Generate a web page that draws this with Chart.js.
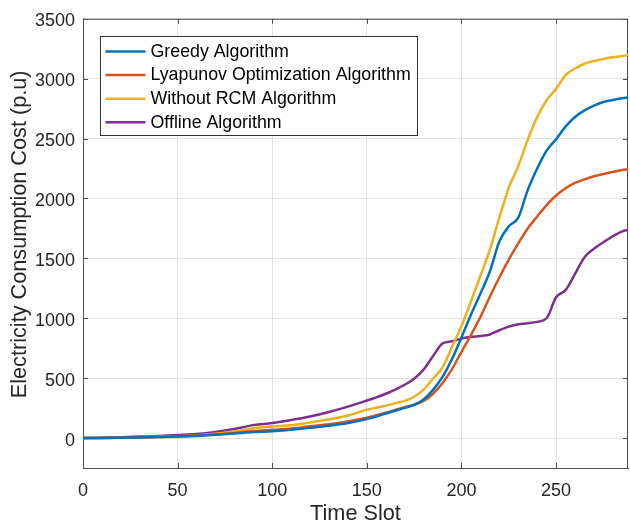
<!DOCTYPE html>
<html>
<head>
<meta charset="utf-8">
<script src="https://cdn.jsdelivr.net/npm/chart.js@4"></script>
<style>
    html, body { margin: 0; padding: 0; background: #ffffff; }
    #wrap { width: 630px; height: 525px; }
</style>
</head>
<body>
<div id="wrap"><canvas id="costChart" width="630" height="525"></canvas></div>
<script>
// Data
const timeSlots = [0, 10, 20, 30, 40, 50, 60, 70, 80, 90, 100, 110, 120, 130, 140, 150,
    155, 160, 165, 170, 175, 180, 185, 190, 195, 200, 205, 210, 215, 220, 225, 230, 235,
    240, 245, 250, 255, 260, 265, 270, 275, 280, 285, 288];

const greedy = [0, 1, 3, 5, 8, 12, 18, 27, 38, 50, 57, 70, 85, 102, 125, 158,
    180, 205, 228, 252, 277, 322, 402, 510, 660, 840, 1030, 1205, 1390, 1640, 1768, 1840, 2070,
    2250, 2400, 2495, 2600, 2680, 2735, 2775, 2805, 2822, 2837, 2843];

const lyapunov = [0, 1, 3, 6, 9, 13, 21, 30, 42, 58, 69, 80, 98, 115, 139, 170,
    190, 212, 235, 258, 278, 310, 370, 460, 575, 720, 860, 1010, 1180, 1340, 1490, 1625, 1750,
    1850, 1945, 2025, 2085, 2130, 2160, 2185, 2205, 2222, 2238, 2245];

const withoutRcm = [0, 1, 3, 6, 10, 15, 22, 35, 55, 82, 97, 106, 130, 157, 188, 236,
    253, 270, 290, 310, 345, 405, 495, 590, 760, 935, 1140, 1355, 1572, 1840, 2090, 2270, 2490,
    2680, 2820, 2915, 3030, 3085, 3125, 3147, 3165, 3179, 3190, 3195];

const offline = [0, 2, 6, 12, 18, 25, 33, 50, 75, 108, 125, 150, 180, 218, 262, 313,
    340, 370, 405, 445, 495, 572, 685, 790, 808, 830, 845, 852, 865, 900, 930, 950, 958,
    970, 1000, 1175, 1235, 1370, 1510, 1580, 1635, 1685, 1725, 1738];

const seriesNames = ["Greedy Algorithm", "Lyapunov Optimization Algorithm", "Without RCM Algorithm", "Offline Algorithm"];
const seriesColors = ["#0072BD", "#D95319", "#EDB120", "#7E2F8E"];

const xTicks = [0, 50, 100, 150, 200, 250];
const yTicks = [0, 500, 1000, 1500, 2000, 2500, 3000, 3500];

const FONT = "'Liberation Sans', Arial, Helvetica, sans-serif";
const TEXT = '#262626';
const AXIS = '#4d4d4d';

const toPoints = (vals) => vals.map((v, i) => ({ x: timeSlots[i], y: v }));

// MATLAB style box: top/right border + inward tick marks
const boxPlugin = {
    id: 'boxPlugin',
    beforeDatasetsDraw(chart) {
        const { ctx, chartArea: a, scales } = chart;
        ctx.save();
        ctx.strokeStyle = AXIS;
        ctx.lineWidth = 1;
        ctx.beginPath();
        ctx.moveTo(a.left, a.top + 0.5);
        ctx.lineTo(a.right, a.top + 0.5);
        ctx.moveTo(a.right - 0.5, a.top);
        ctx.lineTo(a.right - 0.5, a.bottom);
        const len = 5;
        xTicks.forEach(t => {
            const px = Math.round(scales.x.getPixelForValue(t)) + 0.5;
            ctx.moveTo(px, a.bottom); ctx.lineTo(px, a.bottom - len);
            ctx.moveTo(px, a.top); ctx.lineTo(px, a.top + len);
        });
        yTicks.forEach(t => {
            const py = Math.round(scales.y.getPixelForValue(t)) + 0.5;
            ctx.moveTo(a.left, py); ctx.lineTo(a.left + len, py);
            ctx.moveTo(a.right, py); ctx.lineTo(a.right - len, py);
        });
        ctx.stroke();
        ctx.restore();
    }
};

// legend drawn as a boxed panel inside the plot (top-left)
const legendBox = {
    id: 'legendBox',
    afterDatasetsDraw(chart) {
        const { ctx } = chart;
        const x0 = 100.5, y0 = 36.5, w = 317, h = 99;
        ctx.save();
        ctx.fillStyle = '#ffffff';
        ctx.fillRect(x0, y0, w, h);
        ctx.strokeStyle = '#333333';
        ctx.lineWidth = 1;
        ctx.strokeRect(x0, y0, w, h);
        ctx.font = `17.8px ${FONT}`;
        ctx.textBaseline = 'middle';
        ctx.textAlign = 'left';
        chart.data.datasets.forEach((ds, i) => {
            const yy = 51.5 + i * 23.6;
            ctx.strokeStyle = ds.borderColor;
            ctx.lineWidth = 2.5;
            ctx.beginPath();
            ctx.moveTo(105.5, yy);
            ctx.lineTo(145.5, yy);
            ctx.stroke();
            ctx.fillStyle = '#000000';
            ctx.fillText(ds.label, 150.5, yy + 0.5);
        });
        ctx.restore();
    }
};

const datasets = [greedy, lyapunov, withoutRcm, offline].map((vals, i) => ({
    label: seriesNames[i],
    data: toPoints(vals),
    borderColor: seriesColors[i],
    backgroundColor: seriesColors[i],
    borderWidth: 2.5,
    pointRadius: 0,
    cubicInterpolationMode: 'monotone',
    fill: false
}));

new Chart(document.getElementById('costChart'), {
    type: 'line',
    data: { datasets },
    options: {
        responsive: false,
        animation: false,
        devicePixelRatio: 1,
        layout: { padding: { top: 18, right: 2, left: 0, bottom: 0 } },
        plugins: {
            legend: { display: false },
            tooltip: { enabled: false }
        },
        scales: {
            x: {
                type: 'linear',
                min: 0,
                max: 288,
                afterBuildTicks: (s) => { s.ticks = xTicks.map(v => ({ value: v })); },
                afterFit: (s) => { s.height = 57; },
                grid: { color: '#e2e2e2', lineWidth: 1, drawTicks: false },
                border: { display: true, color: AXIS, width: 1 },
                ticks: { color: TEXT, font: { size: 18, family: FONT }, padding: 12, maxRotation: 0, callback: (v) => String(v) },
                title: {
                    display: true,
                    text: 'Time Slot',
                    color: TEXT,
                    font: { size: 21.7, family: FONT, lineHeight: 1 },
                    padding: { top: 0, bottom: 0 }
                }
            },
            y: {
                type: 'linear',
                min: -250,
                max: 3500,
                afterBuildTicks: (s) => { s.ticks = yTicks.map(v => ({ value: v })); },
                afterFit: (s) => { s.width = 83; },
                grid: { color: '#e2e2e2', lineWidth: 1, drawTicks: false },
                border: { display: true, color: AXIS, width: 1 },
                ticks: { color: TEXT, font: { size: 18, family: FONT }, padding: 8, labelOffset: 2.5, callback: (v) => String(v) },
                title: {
                    display: true,
                    text: '\u00a0\u00a0\u00a0Electricity Consumption Cost (p.u)',
                    color: TEXT,
                    font: { size: 21.7, family: FONT, lineHeight: 1 },
                    padding: { top: 9, bottom: 0 }
                }
            }
        }
    },
    plugins: [boxPlugin, legendBox]
});
</script>
</body>
</html>
